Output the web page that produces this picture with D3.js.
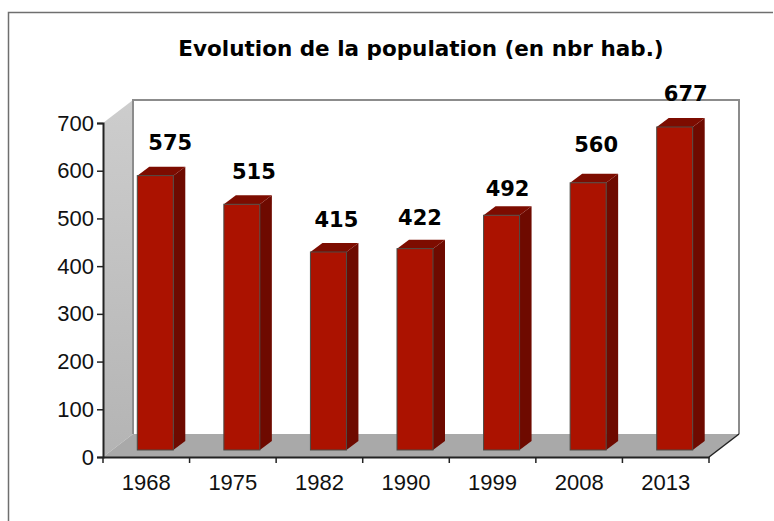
<!DOCTYPE html>
<html>
<head>
<meta charset="utf-8">
<script src="https://cdnjs.cloudflare.com/ajax/libs/d3/7.8.5/d3.min.js"></script>
<style>
  html, body { margin: 0; padding: 0; background: #fff; }
  svg { display: block; }
  text { font-family: "Liberation Sans", Arial, sans-serif; fill: #111; }
  .bold { font-family: "DejaVu Sans", Verdana, sans-serif; font-weight: bold; fill: #000; }
</style>
</head>
<body>
<div id="chart"></div>
<script>
const years = ['1968', '1975', '1982', '1990', '1999', '2008', '2013'];
const population = [575, 515, 415, 422, 492, 560, 677];
const yTicks = [0, 100, 200, 300, 400, 500, 600, 700];

const svg = d3.select('#chart').append('svg').attr('width', 774).attr('height', 521);

// outer frame
svg.append('path').attr('d', 'M8.5,521V12.5H773').attr('fill', 'none').attr('stroke', '#6f6f6f').attr('stroke-width', 1.5);

svg.append('text').attr('class', 'bold').attr('x', 421).attr('y', 56).attr('text-anchor', 'middle')
  .style('font-size', '21.5px').text('Evolution de la population (en nbr hab.)');

const y = d3.scaleLinear().domain([0, 700]).range([457, 123]);
const x = d3.scaleBand().domain(years).range([103, 709]);
const dx = 30, dy = -23;                // depth of the box
const barDx = 12, barDy = -9, barW = 36, baseShift = -7;

// back wall + side wall + floor
const x0 = 103, x1 = 709, yB = y(0), yT = y(700);
const leftGrad = svg.append('defs').append('linearGradient').attr('id', 'wall').attr('x1', 0).attr('x2', 0).attr('y1', 0).attr('y2', 1);
leftGrad.append('stop').attr('offset', 0).attr('stop-color', '#cdcdcd');
leftGrad.append('stop').attr('offset', 1).attr('stop-color', '#b4b4b4');

svg.append('path').attr('d', `M${x0},${yT}L${x0 + dx},${yT + dy}V${yB + dy}L${x0},${yB}Z`).attr('fill', 'url(#wall)');
svg.append('path').attr('d', `M${x0},${yB}L${x0 + dx},${yB + dy}H${x1 + dx}L${x1},${yB}Z`).attr('fill', '#a9a9a9');
svg.append('path').attr('d', `M${x0 + dx},${yB + dy}V${yT + dy}H${x1 + dx}V${yB + dy}`)
  .attr('fill', 'none').attr('stroke', '#8c8c8c').attr('stroke-width', 2);
svg.append('path').attr('d', `M${x1},${yB}L${x1 + dx},${yB + dy}`).attr('stroke', '#222').attr('stroke-width', 1.5);

// bars
const bars = svg.selectAll('g.bar').data(years.map((yr, i) => ({ yr, v: population[i], i })))
  .join('g').attr('class', 'bar');
const barLeft = d => x(d.yr) + (x.bandwidth() - barW) / 2 + 9;
const barTop = d => y(d.v) + baseShift;
const base = y(0) + baseShift;

bars.append('path').attr('fill', '#6e0a00')
  .attr('d', d => `M${barLeft(d) + barW},${barTop(d)}l${barDx},${barDy}V${base + barDy}l${-barDx},${-barDy}Z`);
bars.append('path').attr('fill', '#7d0c00')
  .attr('d', d => `M${barLeft(d)},${barTop(d)}l${barDx},${barDy}h${barW}l${-barDx},${-barDy}Z`);
bars.append('rect').attr('fill', '#ab1200').attr('stroke', '#4a4a44').attr('stroke-width', 1)
  .attr('x', barLeft).attr('y', barTop).attr('width', barW).attr('height', d => base - barTop(d));

// the numbers were placed by hand in the original, so nudge each one
const labelNudgeX = [33, 30, 26, 23, 24, 26, 29];
const labelNudgeY = [26, 25, 25, 24, 19, 31, 26];
bars.append('text').attr('class', 'bold').attr('x', d => barLeft(d) + labelNudgeX[d.i]).attr('y', d => barTop(d) - labelNudgeY[d.i])
  .attr('text-anchor', 'middle').style('font-size', '21px').text(d => d.v);

// axes
const yAxis = d3.axisLeft(y).tickValues(yTicks).tickSize(6).tickPadding(3);
const xAxis = d3.axisBottom(x).tickSize(0).tickPadding(17);
const gy = svg.append('g').attr('transform', 'translate(103,0)').call(yAxis);
const gx = svg.append('g').attr('transform', 'translate(0,457)').call(xAxis);
gx.selectAll('.tickmark').data(d3.range(years.length + 1)).join('line').attr('class', 'tickmark')
  .attr('x1', i => x0 + i * x.step()).attr('x2', i => x0 + i * x.step()).attr('y1', 0).attr('y2', 6)
  .attr('stroke', '#222').attr('stroke-width', 1.5);
[gy, gx].forEach(g => {
  g.selectAll('.domain').attr('stroke', '#222').attr('stroke-width', 2);
  g.selectAll('.tick line').attr('stroke', '#222').attr('stroke-width', 1.5);
  g.selectAll('.tick text').style('font-size', '22px').attr('fill', '#111');
});
</script>
</body>
</html>
